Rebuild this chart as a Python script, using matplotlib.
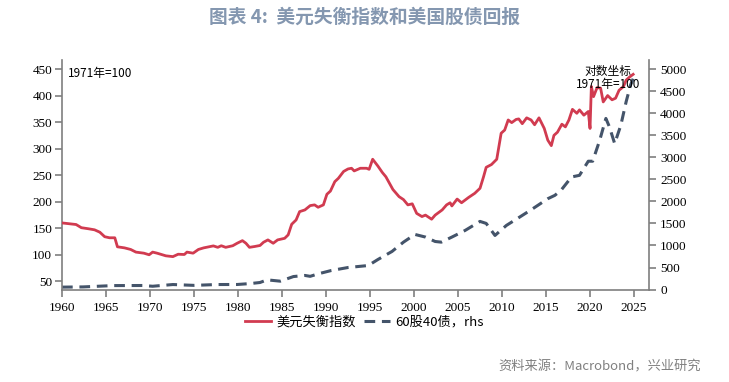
import matplotlib
matplotlib.use("Agg")
import matplotlib.pyplot as plt

plt.rcParams['font.family'] = ['Noto Sans CJK SC', 'DejaVu Sans']

# 美元失衡指数 (left axis)
usd_years = [1960.0, 1961.0, 1961.6, 1962.2, 1963.0, 1963.7, 1964.3, 1964.85, 1965.4, 1966.0,
             1966.3, 1967.1, 1967.8, 1968.4, 1969.3, 1969.9, 1970.3, 1970.8, 1971.4, 1971.8,
             1972.6, 1973.2, 1973.9, 1974.2, 1974.9, 1975.5, 1976.1, 1977.2, 1977.7, 1978.1,
             1978.6, 1979.4, 1979.9, 1980.5, 1980.9, 1981.3, 1981.9, 1982.5, 1982.9, 1983.4,
             1984.0, 1984.5, 1985.3, 1985.7, 1986.1, 1986.6, 1987.0, 1987.6, 1988.2, 1988.7,
             1989.1, 1989.7, 1990.1, 1990.5, 1991.0, 1991.4, 1992.0, 1992.5, 1992.9, 1993.2,
             1993.9, 1994.6, 1994.9, 1995.3, 1995.9, 1996.4, 1996.8, 1997.6, 1998.3, 1998.8,
             1999.3, 1999.8, 2000.3, 2000.9, 2001.3, 2002.0, 2002.4, 2003.2, 2003.7, 2004.1,
             2004.3, 2004.9, 2005.4, 2006.2, 2006.9, 2007.5, 2007.9, 2008.2, 2008.8, 2009.4,
             2009.9, 2010.3, 2010.7, 2011.1, 2011.6, 2011.9, 2012.3, 2012.8, 2013.3, 2013.7,
             2014.2, 2014.8, 2015.2, 2015.6, 2015.9, 2016.3, 2016.8, 2017.2, 2017.6, 2018.0,
             2018.5, 2018.8, 2019.3, 2019.8, 2020.0, 2020.15, 2020.4, 2020.8, 2021.2, 2021.5,
             2022.0, 2022.5, 2022.9, 2023.3, 2023.8, 2024.1, 2024.5, 2024.9]
usd_index = [160, 158, 157, 151, 149, 147, 142.5, 134, 132, 132,
             115, 113, 110, 105, 103, 100, 105, 103, 100, 98,
             96.5, 101, 100.5, 105, 103, 110, 113, 116.7, 114, 117,
             114, 117, 121.7, 126.6, 121.7, 114, 115.6, 117.5, 123.6, 128,
             121.7, 128, 131, 137.5, 157.5, 165.6, 181.3, 184.5, 192.6, 194,
             189.5, 194, 214, 220, 237.8, 244, 257, 261.7, 263, 258,
             263, 263, 261, 280, 267, 255, 247, 223, 209.5, 204,
             194, 196, 178, 172, 174.7, 167, 174.7, 184.5, 194, 198,
             192, 205, 198, 208, 215.8, 225.3, 247, 264.8, 270, 280,
             329, 335, 354, 349, 355, 356, 347, 358, 354, 345,
             358, 338, 316, 305.6, 325, 331, 346, 341, 354, 374,
             366.6, 373, 363, 370, 338, 417, 398, 415, 414, 388,
             400, 392, 395, 410, 417, 429, 435, 440]

# 60股40债 (right axis)
pf_years = [1960.0, 1962.4, 1965.8, 1969.2, 1970.3, 1972.6, 1975.0, 1977.6, 1979.9, 1981.4,
            1982.5, 1983.3, 1984.8, 1986.3, 1987.6, 1988.2, 1989.1, 1990.6, 1992.5, 1994.8,
            1995.9, 1997.5, 1998.8, 2000.1, 2001.3, 2002.4, 2003.1, 2004.3, 2005.8, 2007.5,
            2008.2, 2009.2, 2010.5, 2012.0, 2013.5, 2015.2, 2016.0, 2016.7, 2017.9, 2018.8,
            2019.8, 2020.3, 2021.1, 2021.8, 2022.2, 2022.8, 2023.5, 2024.1, 2024.6, 2024.9]
pf_value = [55, 60, 90, 92, 75, 114, 95, 114, 115, 136,
            160, 220, 190, 295, 320, 300, 356, 432, 500, 545,
            682, 864, 1075, 1250, 1190, 1090, 1075, 1190, 1340, 1545,
            1500, 1227, 1455, 1643, 1834, 2060, 2136, 2250, 2553, 2590,
            2910, 2910, 3386, 3880, 3690, 3310, 3727, 4257, 4636, 4780]

x_ticks = list(range(1960, 2026, 5))
left_ticks = list(range(50, 451, 50))
right_ticks = list(range(0, 5001, 500))

red = '#d13b50'
navy = '#44546a'
spine_c = '#7f7f7f'
tick_font = 'Liberation Serif'

fig = plt.figure(figsize=(7.29, 3.82), dpi=100)
ax1 = fig.add_axes([62/729, 1-290/382, (649-62)/729, (290-60)/382])
ax2 = ax1.twinx()

l1, = ax1.plot(usd_years, usd_index, color=red, lw=2.0, label='美元失衡指数', zorder=3)
l2, = ax2.plot(pf_years, pf_value, color=navy, lw=2.2, ls=(0, (3.5, 2.2)), label='60股40债，rhs')
ax1.set_zorder(ax2.get_zorder() + 1)
ax1.patch.set_visible(False)

ax1.set_xlim(1960, 2026.7)
ax1.set_ylim(33.6, 467)
ax2.set_ylim(-10, 5205)
ax1.set_xticks(x_ticks)
ax1.set_yticks(left_ticks)
ax2.set_yticks(right_ticks)

for ax in (ax1, ax2):
    ax.spines['top'].set_visible(False)
    for s in ('left', 'right', 'bottom'):
        ax.spines[s].set_color(spine_c)
        ax.spines[s].set_linewidth(1.2)
    ax.tick_params(colors=spine_c, length=5, width=1.2, labelcolor='black', labelsize=9.5)
    for lab in ax.get_xticklabels() + ax.get_yticklabels():
        lab.set_fontfamily(tick_font)
ax1.spines['right'].set_visible(False)
ax2.spines['left'].set_visible(False)
ax2.spines['bottom'].set_visible(False)
ax1.tick_params(axis='y', pad=2)
ax2.tick_params(axis='y', pad=3)

ax1.text(0.01, 0.97, '1971年=100', transform=ax1.transAxes, fontsize=8.5, va='top', ha='left')
ax1.text(0.93, 0.98, '对数坐标\n1971年=100', transform=ax1.transAxes, fontsize=8.5,
         va='top', ha='center', linespacing=1.0)

fig.text(0.5, 0.955, '图表 4:  美元失衡指数和美国股债回报', ha='center', va='center',
         fontsize=13.5, fontweight='bold', color='#8497b0')
fig.text(0.962, 0.04, '资料来源：Macrobond，兴业研究', ha='right', va='center',
         fontsize=9.5, color='#808080')

fig.legend(handles=[l1, l2], loc='center', bbox_to_anchor=(0.5, 1-322/382), ncol=2,
           frameon=False, fontsize=9.5, handlelength=2.0, columnspacing=0.6, handletextpad=0.4)

fig.savefig('out.png', dpi=100)
